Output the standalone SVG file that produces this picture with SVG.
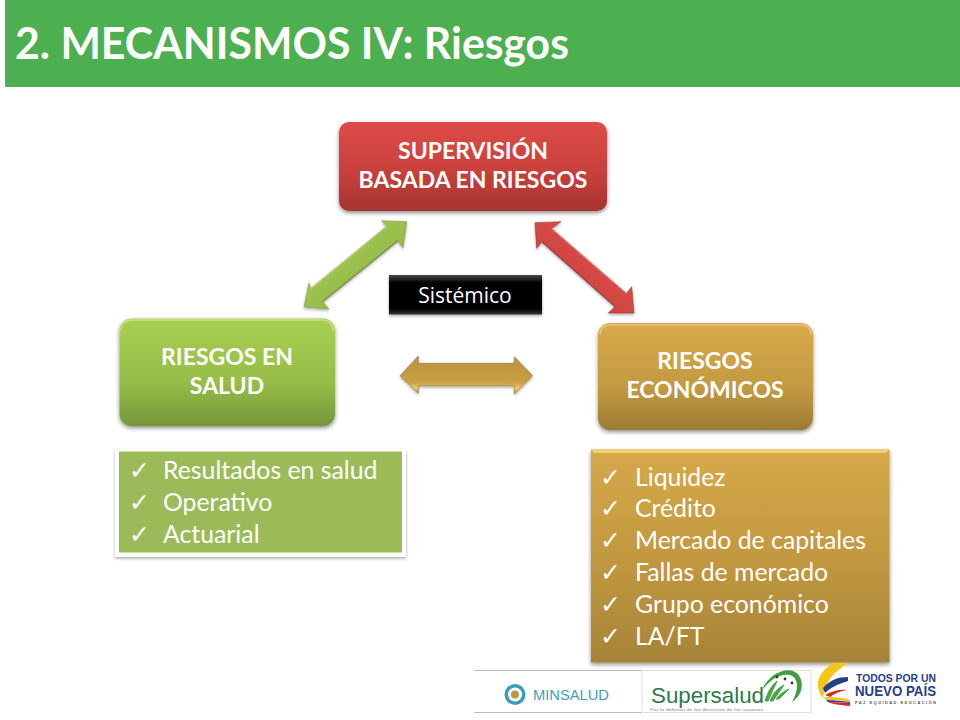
<svg xmlns="http://www.w3.org/2000/svg" width="960" height="720" viewBox="0 0 960 720">
<style>
text{font-family:"Lato","Liberation Sans",sans-serif}
.h{font-weight:700;font-size:23px;fill:#fff;text-anchor:middle}
.l{font-size:24.800px;fill:#fff}
.c{font-family:"DejaVu Sans",sans-serif;font-size:25px;font-weight:700;fill:#fff}
.b{fill:none;stroke:#fff;stroke-opacity:.35;stroke-width:1.500}
.d{fill:none;stroke:#000;stroke-opacity:.18;stroke-width:1.500}
.lg{font-family:"Liberation Sans",sans-serif}
</style>
<defs>
<linearGradient id="gr" x1="0" y1="0" x2="0" y2="1"><stop offset="0" stop-color="#de4b47"/><stop offset=".55" stop-color="#c9403c"/><stop offset="1" stop-color="#a53330"/></linearGradient>
<linearGradient id="gg" x1="0" y1="0" x2="0" y2="1"><stop offset="0" stop-color="#a8cf52"/><stop offset=".6" stop-color="#95bd47"/><stop offset="1" stop-color="#76963a"/></linearGradient>
<linearGradient id="go" x1="0" y1="0" x2="0" y2="1"><stop offset="0" stop-color="#d9a94a"/><stop offset=".6" stop-color="#c39a41"/><stop offset="1" stop-color="#9c7b33"/></linearGradient>
<linearGradient id="gol" x1="0" y1="0" x2="0" y2="1"><stop offset="0" stop-color="#d6a949"/><stop offset=".55" stop-color="#c0973f"/><stop offset="1" stop-color="#a58337"/></linearGradient>
<linearGradient id="gb" x1="0" y1="0" x2="0" y2="1"><stop offset="0" stop-color="#4a4a4a"/><stop offset=".2" stop-color="#000"/><stop offset=".85" stop-color="#000"/><stop offset="1" stop-color="#333"/></linearGradient>
<linearGradient id="aro" x1="0" y1="0" x2="0" y2="1"><stop offset="0" stop-color="#b8923d"/><stop offset=".7" stop-color="#c9a043"/><stop offset=".85" stop-color="#f0c860"/><stop offset="1" stop-color="#a58337"/></linearGradient>
<linearGradient id="arg" x1="0" y1="0" x2="1" y2="1"><stop offset="0" stop-color="#b4d95f"/><stop offset="1" stop-color="#7fa53a"/></linearGradient>
<linearGradient id="arr" x1="1" y1="0" x2="0" y2="1"><stop offset="0" stop-color="#e8605a"/><stop offset="1" stop-color="#c0302e"/></linearGradient>
<filter id="s" x="-10%" y="-10%" width="120%" height="125%"><feDropShadow dx="0" dy="2" stdDeviation="2" flood-color="#000" flood-opacity=".45"/></filter>
<filter id="s2" x="-10%" y="-10%" width="120%" height="125%"><feDropShadow dx="0" dy="1.500" stdDeviation="1.500" flood-color="#000" flood-opacity=".35"/></filter>
</defs>
<rect width="960" height="720" fill="#fff"/>
<g id="title">
<rect x="5" y="0" width="955" height="87" fill="#4caf50"/>
<text x="15" y="59" font-size="44" font-weight="700" fill="#fff" textLength="554" lengthAdjust="spacingAndGlyphs">2. MECANISMOS IV: Riesgos</text>
</g>
<g id="connectors">
<g id="arrow-green">
<polygon filter="url(#s2)" fill="url(#arg)" stroke="#7d9c3a" stroke-width=".6" points="406.7,221.7 381.700,220.700 386.700,226 310.700,288.300 309,283 304,307 329,309 322.700,301.700 398,240.700 403,247.700"/>
<path class="b" d="M386.700 226L310.700 288.300"/><path class="d" d="M398 240.700L322.700 301.700"/>
</g>
<g id="arrow-red">
<polygon filter="url(#s2)" fill="url(#arr)" stroke="#a83431" stroke-width=".6" points="535,222.700 561,221.700 551.700,228.300 626.700,293.300 631.700,286.700 634,313 608.300,313 615,306.700 541.700,241.700 536.700,248.300"/>
<path class="b" d="M551.700 228.300L626.700 293.300"/><path class="d" d="M541.700 241.700L615 306.700"/>
</g>
<g id="arrow-gold">
<polygon filter="url(#s2)" fill="url(#aro)" stroke="#94752f" stroke-width=".6" points="400,375.700 418.300,356 418.300,363.300 514.300,363.300 514.300,356.700 532.700,375.700 514.300,394 514.300,385.700 418.300,385.700 418.300,393.300"/>
</g>
</g>
<g id="node-supervision">
<rect x="339" y="122" width="268" height="89" rx="10" fill="url(#gr)" filter="url(#s)"/>
<text class="h" x="473" y="159">SUPERVISIÓN</text>
<text class="h" x="473" y="188">BASADA EN RIESGOS</text>
</g>
<g id="node-sistemico">
<rect x="389" y="275" width="153" height="39.500" fill="url(#gb)" filter="url(#s2)"/>
<text x="465" y="303" font-size="21" fill="#fff" text-anchor="middle" style="font-family:'Open Sans','Noto Sans',sans-serif">Sistémico</text>
</g>
<g id="node-salud">
<rect x="119.500" y="318.500" width="215.500" height="107.500" rx="12" fill="url(#gg)" filter="url(#s)"/>
<path class="b" d="M121 331Q121 320 132 320H322Q333 320 333 331"/>
<text class="h" x="227" y="365">RIESGOS EN</text>
<text class="h" x="227" y="394">SALUD</text>
</g>
<g id="node-economicos">
<rect x="598" y="323" width="215" height="107" rx="12" fill="url(#go)" filter="url(#s)"/>
<path class="b" d="M600 335Q600 325 610 325H801Q811 325 811 335"/>
<text class="h" x="705" y="369">RIESGOS</text>
<text class="h" x="705" y="398">ECONÓMICOS</text>
</g>
<g id="list-salud">
<rect x="115" y="449" width="291" height="108" fill="#fff" filter="url(#s2)"/>
<rect x="119" y="451.500" width="283" height="101" fill="#9bbb59"/>
<text class="c" x="129" y="479">✓</text><text class="l" x="163" y="479">Resultados en salud</text>
<text class="c" x="129" y="511">✓</text><text class="l" x="163" y="511">Operativo</text>
<text class="c" x="129" y="543">✓</text><text class="l" x="163" y="543">Actuarial</text>
</g>
<g id="list-economicos">
<rect x="591" y="449.500" width="298.500" height="213" fill="url(#gol)" filter="url(#s)"/>
<path d="M591 449.500H889.500L886 453H594Z" fill="#f0d070"/>
<text class="c" x="600" y="486">✓</text><text class="l" x="635" y="486">Liquidez</text>
<text class="c" x="600" y="517">✓</text><text class="l" x="635" y="517">Crédito</text>
<text class="c" x="600" y="549">✓</text><text class="l" x="635" y="549">Mercado de capitales</text>
<text class="c" x="600" y="581">✓</text><text class="l" x="635" y="581">Fallas de mercado</text>
<text class="c" x="600" y="613">✓</text><text class="l" x="635" y="613">Grupo económico</text>
<text class="c" x="600" y="645">✓</text><text class="l" x="635" y="645">LA/FT</text>
</g>
<g id="logos">
<path d="M474 670.500H642M474 712.500H642" stroke="#bbb" fill="none"/>
<rect x="642" y="670.500" width="169" height="42" fill="#fff" stroke="#ddd"/>
<circle cx="515" cy="694.500" r="10.500" fill="#3b9dbb"/><circle cx="515" cy="694.500" r="7" fill="#fff"/><circle cx="515" cy="694.500" r="4" fill="#b99a3c"/>
<text class="lg" x="533" y="699.500" font-size="14" fill="#3e9fb4" textLength="76" lengthAdjust="spacingAndGlyphs">MINSALUD</text>
<text class="lg" x="651" y="703" font-size="22" fill="#2e7a4d" textLength="113" lengthAdjust="spacingAndGlyphs">Supersalud</text>
<path d="M762 690C768 676 782 668 793 671C804 675 806 693 792 702C799 690 799 678 790 675C780 673 770 680 762 690Z" fill="#3f9f45"/>
<path d="M765 701C768 692 771 686 777 681L768 701ZM770 701C773 693 778 688 784 685L773 701ZM776 699C780 694 784 691 789 689L779 699Z" fill="#4aa544" stroke="#4aa544"/>
<circle cx="785" cy="679" r="1.400" fill="#333"/><circle cx="792" cy="683" r="1.400" fill="#333"/><circle cx="777" cy="677" r="1.400" fill="#333"/>
<text class="lg" x="650" y="710.500" font-size="4" fill="#888" textLength="113" lengthAdjust="spacingAndGlyphs">Por la defensa de los derechos de los usuarios</text>
<path d="M848 663H833C822 670 817 678 818 686C819 692 821 696 823 698C824 690 827 681 834 674C838 670 843 666 848 663Z" fill="#f5c518"/>
<path d="M848 677C838 677 830 680 823 688L825 693C830 688 838 684 848 681Z" fill="#27408b"/>
<path d="M825 695C832 691 840 689 847 690C840 691 834 694 830 697Z" fill="#d62828"/>
<path d="M824 697C832 697 842 697 850 700V702C842 700 832 700 826 700Z" fill="#f5c518"/>
<path d="M826 700C834 700 842 701 850 702V703C842 702 834 702 828 702Z" fill="#27408b"/>
<path d="M828 702C836 702 844 703 850 703V706C842 705 834 705 828 702Z" fill="#d62828"/>
<text class="lg" x="856" y="682" font-size="11" font-weight="700" fill="#27408b" textLength="80" lengthAdjust="spacingAndGlyphs">TODOS POR UN</text>
<text class="lg" x="855" y="696" font-size="14" font-weight="700" fill="#27408b" textLength="81" lengthAdjust="spacingAndGlyphs">NUEVO PAÍS</text>
<text class="lg" x="855" y="703.500" font-size="4" font-weight="700" fill="#555" textLength="81">PAZ   EQUIDAD   EDUCACIÓN</text>
</g>
</svg>
